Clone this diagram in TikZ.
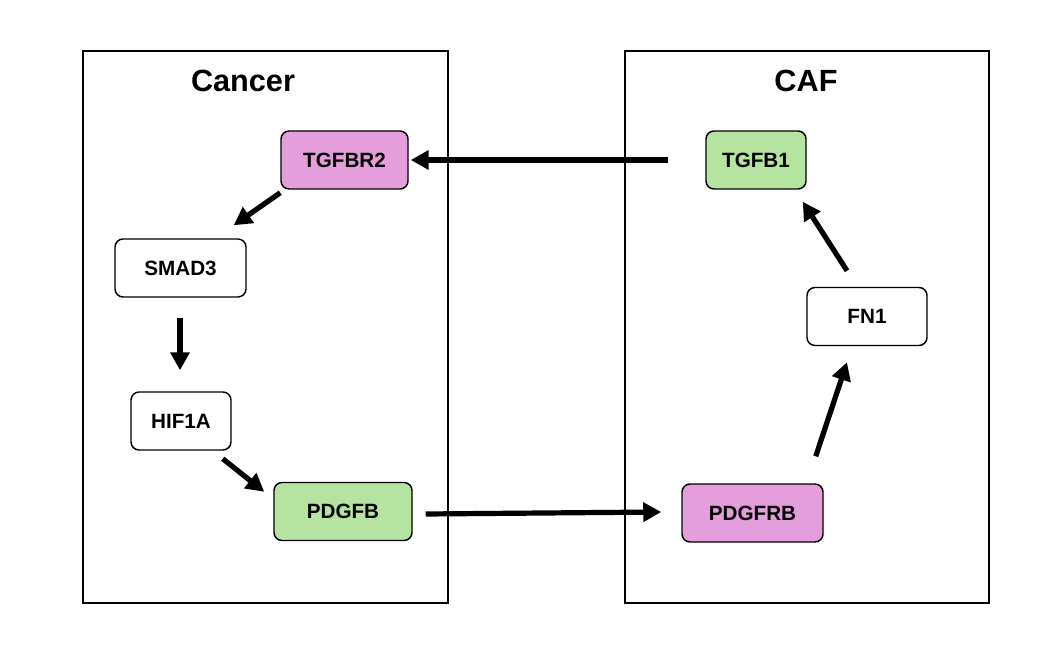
\documentclass[tikz,border=0pt]{standalone}
\usepackage{fontspec}
\setmainfont{Liberation Sans}
\usetikzlibrary{arrows.meta}

\definecolor{recpink}{RGB}{228,158,220}
\definecolor{ligreen}{RGB}{181,228,161}

\tikzset{every picture/.style={line width=0.75pt}}
\tikzset{
  cellbox/.style={draw=black, line width=1.5pt},
  celltitle/.style={font=\fontsize{23}{27}\selectfont\bfseries, inner sep=0.75pt},
  gene/.style={draw=black, line width=1.1pt, rounded corners=6pt, fill=white,
    minimum height=43.5pt, inner sep=0pt, font=\fontsize{15.5}{18}\selectfont\bfseries},
  flow/.style={line width=3.9pt, -{Triangle[length=13.5pt,width=14pt]}}
}

\begin{document}
\begin{tikzpicture}[x=0.75pt,y=0.75pt,yscale=-1,xscale=1]
\useasboundingbox (0,0) rectangle (1056,655);

%Cell frames
\draw [cellbox] (83,51) rectangle (448,603);
\draw [cellbox] (625,51) rectangle (989,603);

% Text Node
\node [celltitle] (cancerlbl) at (243,81) {Cancer};
% Text Node
\node [celltitle] (caflbl) at (806,81) {CAF};

%Genes in cancer cell
\node [gene, fill=recpink, minimum width=95.25pt] (TGFBR2) at (344.5,160) {TGFBR2};
\node [gene, minimum width=98.25pt] (SMAD3) at (180.5,268) {SMAD3};
\node [gene, minimum width=75pt] (HIF1A) at (181,421) {HIF1A};
\node [gene, fill=ligreen, minimum width=103.5pt] (PDGFB) at (343,511.5) {PDGFB};

%Genes in CAF
\node [gene, fill=ligreen, minimum width=75pt] (TGFB1) at (756,160) {TGFB1};
\node [gene, minimum width=90pt] (FN1) at (867,316.5) {FN1};
\node [gene, fill=recpink, minimum width=105.75pt] (PDGFRB) at (752.5,513) {PDGFRB};

%Arrows
\draw [flow] ([shift={(-37,0)}]TGFB1.west) -- ([shift={(2,0)}]TGFBR2.east);
\draw [flow] ([shift={(0,3)}]TGFBR2.south west) -- ([shift={(-13,-13)}]SMAD3.north east);
\draw [flow] ([shift={(-0.5,20)}]SMAD3.south) -- ([shift={(-1,-21)}]HIF1A.north);
\draw [flow] ([shift={(-9,8)}]HIF1A.south east) -- ([shift={(-9,10)}]PDGFB.north west);
\draw [flow] ([shift={(13,2.5)}]PDGFB.east) -- ([shift={(-20,-1)}]PDGFRB.west);
\draw [flow] ([shift={(-8,-27)}]PDGFRB.north east) -- ([shift={(-20,16)}]FN1.south);
\draw [flow] ([shift={(-20,-16)}]FN1.north) -- ([shift={(-4,12)}]TGFB1.south east);

\end{tikzpicture}
\end{document}
